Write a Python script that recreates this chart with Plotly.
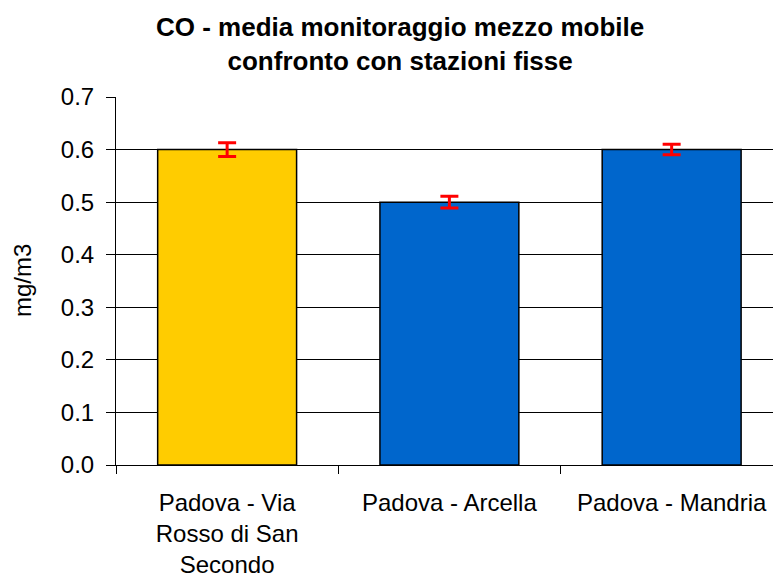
import plotly.graph_objects as go

stazioni = ["Padova - Via<br>Rosso di San<br>Secondo", "Padova - Arcella", "Padova - Mandria"]
media_co = [0.6, 0.5, 0.6]
errore = [0.013, 0.011, 0.01]
colori = ["#FFCC00", "#0066CC", "#0066CC"]
titolo = "<b>CO - media monitoraggio mezzo mobile<br>confronto con stazioni fisse</b>"

fig = go.Figure()
fig.add_bar(
    x=stazioni, y=media_co, width=0.625,
    marker=dict(color=colori, line=dict(color="black", width=1.5)),
    error_y=dict(type="data", array=errore, color="red", thickness=3, width=9),
)

fig.update_layout(
    width=773, height=578,
    margin=dict(l=116, r=0, t=97, b=111),
    plot_bgcolor="white", paper_bgcolor="white",
    font=dict(family="Liberation Sans, Arial", size=24, color="black"),
    showlegend=False,
)
# titolo come annotazione, il title di plotly taglia la prima riga
fig.add_annotation(
    text=titolo, xref="paper", yref="paper",
    x=(400 - 116) / 657, y=1 + (97 - 44) / 370,
    xanchor="center", yanchor="middle", showarrow=False,
    font=dict(size=26),
)
# titolo asse y
fig.add_annotation(
    text="mg/m3", xref="paper", yref="paper",
    x=(22 - 116) / 657, y=0.5, textangle=-90,
    xanchor="center", yanchor="middle", showarrow=False,
)
fig.update_xaxes(
    range=[-0.5, 2.456], showline=True, linecolor="black", linewidth=1,
    ticks="outside", tickson="boundaries", ticklen=8, tickcolor="black",
    ticklabelstandoff=16, showgrid=False,
)
fig.update_yaxes(
    range=[0, 0.7], dtick=0.1, tickformat=".1f",
    showline=True, linecolor="black", linewidth=1,
    ticks="outside", ticklen=9, tickcolor="black", ticklabelstandoff=7,
    showgrid=True, gridcolor="black", gridwidth=1,
    zeroline=False,
)

# niente margine del body, altrimenti tutto si sposta di 8px
fig.write_html("out.html", config={"displayModeBar": False},
               post_script="document.body.style.margin='0';")
